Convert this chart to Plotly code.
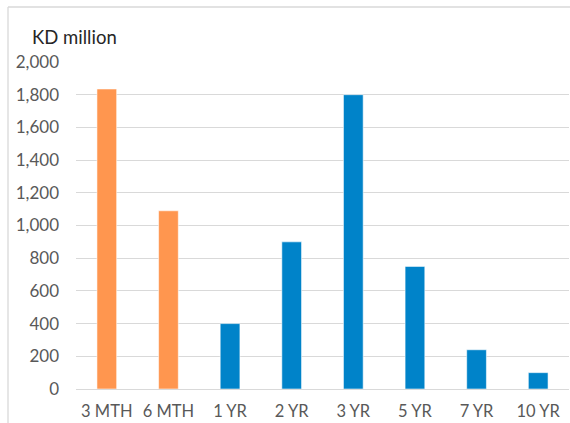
import plotly.graph_objects as go

# Maturity buckets and outstanding amounts (KD million)
categories = ["3 MTH", "6 MTH", "1 YR", "2 YR", "3 YR", "5 YR", "7 YR", "10 YR"]
values = [1835, 1090, 400, 900, 1800, 750, 240, 100]
bar_colors = ["#FF964F", "#FF964F", "#0083C9", "#0083C9",
              "#0083C9", "#0083C9", "#0083C9", "#0083C9"]
y_ticks = [0, 200, 400, 600, 800, 1000, 1200, 1400, 1600, 1800, 2000]

W, H = 570, 423
L, R, T, B = 76, 1, 62, 34
pw, ph = W - L - R, H - T - B

fig = go.Figure(
    go.Bar(
        x=categories,
        y=values,
        marker=dict(color=bar_colors, line=dict(color="rgba(255,255,255,0.7)", width=0.8)),
        hoverinfo="x+y",
    )
)

font_family = "Lato, 'Open Sans', sans-serif"

fig.update_layout(
    width=W,
    height=H,
    margin=dict(l=L, r=R, t=T, b=B, pad=0),
    paper_bgcolor="white",
    plot_bgcolor="white",
    bargap=0.68,
    showlegend=False,
    font=dict(family=font_family, color="#595959", size=16.5),
)

fig.update_xaxes(
    showgrid=False,
    showline=False,
    zeroline=False,
    ticks="",
    tickfont=dict(size=16.5, color="#595959"),
    ticklabelstandoff=10,
)

fig.update_yaxes(
    range=[0, 2000],
    tickvals=y_ticks,
    tickformat=",d",
    showgrid=True,
    gridcolor="#D9D9D9",
    gridwidth=1.3,
    zeroline=True,
    zerolinecolor="#D9D9D9",
    zerolinewidth=1.3,
    showline=False,
    ticks="",
    tickfont=dict(size=17, color="#595959"),
    ticklabelstandoff=16,
)

# Chart-area border (top and left edges)
bx = (8 - L) / pw
by = 1 + (T - 7) / ph
fig.add_shape(type="line", xref="paper", yref="paper", x0=bx, x1=1.05, y0=by, y1=by,
              line=dict(color="#D9D9D9", width=1.3))
fig.add_shape(type="line", xref="paper", yref="paper", x0=bx, x1=bx, y0=by, y1=-0.2,
              line=dict(color="#D9D9D9", width=1.3))

# Axis unit title
fig.add_annotation(
    text="KD million",
    xref="paper", yref="paper",
    x=(30 - L) / pw, y=1 + (T - 37) / ph,
    xanchor="left", yanchor="middle",
    showarrow=False,
    font=dict(family=font_family, size=18.5, color="#262626"),
)

fig.write_html("out.html")
